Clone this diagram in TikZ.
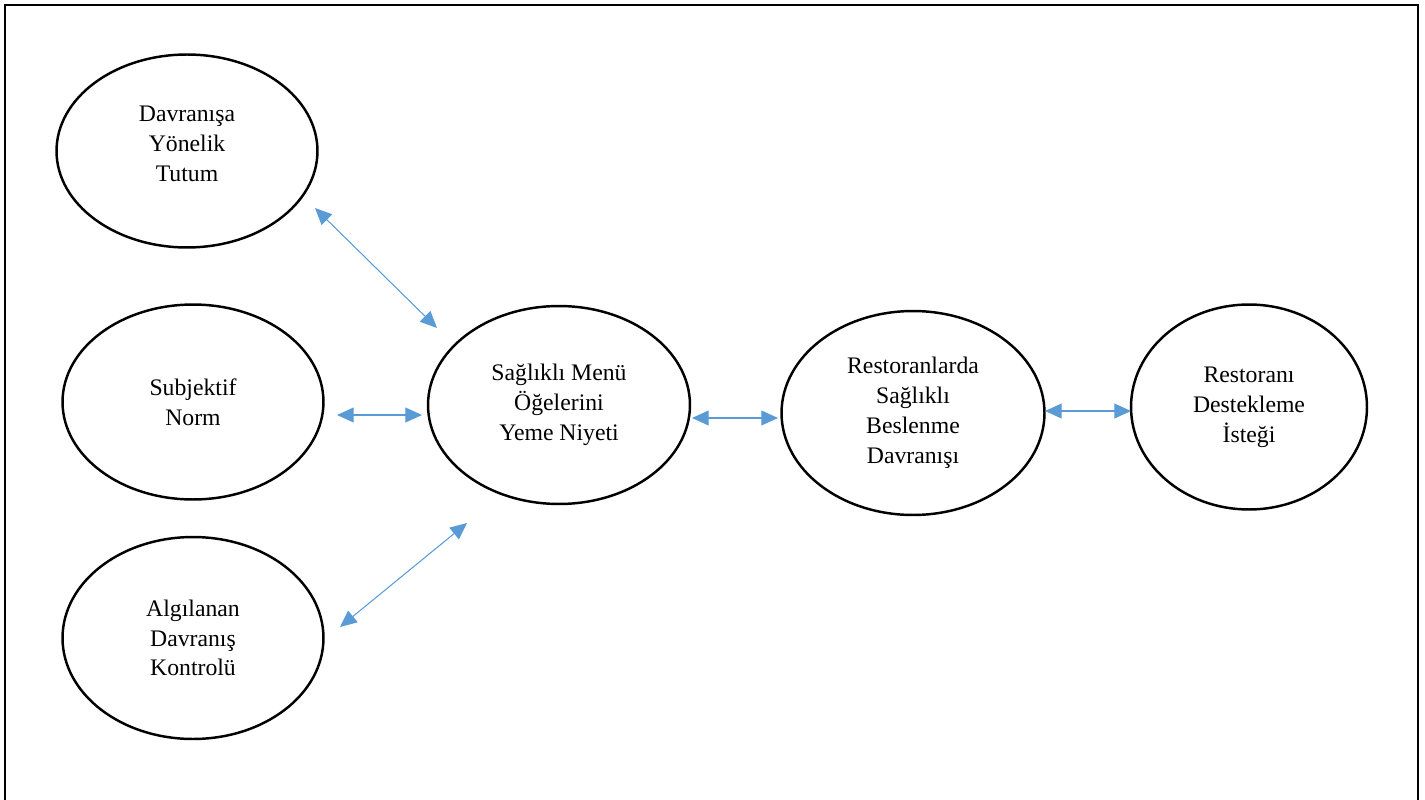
\documentclass[tikz,border=0pt]{standalone}
\usepackage{fontspec}
\setmainfont{Liberation Serif}
\usetikzlibrary{shapes.geometric,arrows.meta}
\definecolor{OkMavi}{HTML}{5B9BD5}

\begin{document}
\begin{tikzpicture}[
    x=0.02cm, y=-0.02cm,
    yapi/.style={
      ellipse,
      draw=black,
      line width=1.4pt,
      inner sep=0pt,
      minimum width=5.22cm,
      minimum height=3.9cm,
      align=center,
      font=\fontsize{13.5}{17}\selectfont
    },
    bag/.style={
      draw=OkMavi,
      line width=0.6pt,
      {Triangle[length=9.5pt,width=8.5pt]}-{Triangle[length=9.5pt,width=8.5pt]}
    }
  ]
  \useasboundingbox (0,0) rectangle (1425,800);
  % cerceve (alt kenar yok)
  \draw[line width=1.1pt] (5,805) -- (5,5) -- (1418,5) -- (1418,805);

  % yapilar
  \node[yapi, minimum height=3.86cm] (tutum) at (187,151) {Davranışa\\Yönelik\\Tutum\\[-0.3cm]};
  \node[yapi] (norm) at (193,402) {Subjektif\\Norm};
  \node[yapi, minimum height=4.04cm] (kontrol) at (193,638) {Algılanan\\Davranış\\Kontrolü};
  \node[yapi, minimum width=5.24cm, minimum height=3.96cm] (niyet) at (559,405) {Sağlıklı Menü\\Öğelerini\\Yeme Niyeti};
  \node[yapi, minimum width=5.26cm, minimum height=4.08cm] (davranis) at (913,413) {Restoranlarda\\Sağlıklı\\Beslenme\\Davranışı};
  \node[yapi, minimum width=4.72cm, minimum height=4.1cm] (destek) at (1249,407) {Restoranı\\Destekleme\\İsteği};

  % ok uclari
  \coordinate (tutumUc) at (315,208);
  \coordinate (niyetUcA) at (437,328);
  \coordinate (normUc) at (337,415);
  \coordinate (niyetUcB) at (422,415);
  \coordinate (kontrolUc) at (340,627);
  \coordinate (niyetUcC) at (467,523);
  \coordinate (niyetUcD) at (692,418);
  \coordinate (davranisUcA) at (778,418);
  \coordinate (davranisUcB) at (1045,411);
  \coordinate (destekUc) at (1131,411);

  % oklar
  \draw[bag] (tutumUc) -- (niyetUcA);
  \draw[bag] (normUc) -- (niyetUcB);
  \draw[bag] (kontrolUc) -- (niyetUcC);
  \draw[bag] (niyetUcD) -- (davranisUcA);
  \draw[bag] (davranisUcB) -- (destekUc);
\end{tikzpicture}
\end{document}
